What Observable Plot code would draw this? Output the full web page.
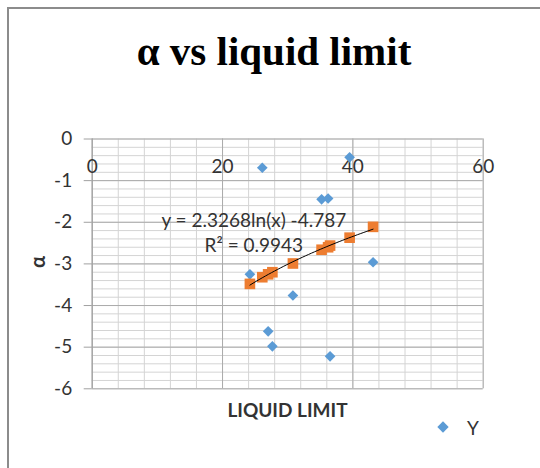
<!DOCTYPE html>
<html><head><meta charset="utf-8">
<script src="https://cdn.jsdelivr.net/npm/d3@7"></script>
<script src="https://cdn.jsdelivr.net/npm/@observablehq/plot@0.6"></script>
<style>
body{margin:0;background:#fff;}
#wrap{position:relative;width:540px;height:468px;overflow:hidden;font-family:Lato,"Open Sans",sans-serif;color:#333;}
#frame{position:absolute;left:7px;top:7px;width:700px;height:700px;border-left:2px solid #8c8c8c;border-top:2px solid #8c8c8c;}
#title{position:absolute;left:0;width:548px;top:30px;text-align:center;font-family:"Liberation Serif","DejaVu Serif",serif;font-weight:bold;font-size:41px;line-height:42px;color:#000;}
#chart{position:absolute;left:0;top:100px;}
#ytitle{position:absolute;left:27px;top:252px;width:20px;height:20px;line-height:20px;text-align:center;font-weight:bold;font-size:20px;transform:rotate(-90deg);color:#333;}
#xtitle{position:absolute;left:92px;width:391px;top:400px;line-height:20px;text-align:center;font-weight:bold;font-size:19px;color:#333;}
#legend{position:absolute;left:439px;top:416px;height:22px;display:flex;align-items:center;font-size:19px;color:#333;}
#legend .sw{width:8px;height:8px;background:#5b9bd5;transform:rotate(45deg);margin-right:20px;}
</style>
</head><body>
<div id="wrap">
  <div id="frame"></div>
  <div id="title">α vs liquid limit</div>
  <div id="chart"></div>
  <div id="ytitle">α</div>
  <div id="xtitle">LIQUID LIMIT</div>
  <div id="legend"><div class="sw"></div><span>Y</span></div>
</div>
<script>
// Liquid limit (x) values
const liquidLimit = [24.2, 26.1, 27.0, 27.65, 30.8, 35.2, 36.2, 36.5, 39.5, 43.1];
// Series "Y" (blue diamonds)
const alphaY = [-3.25, -0.69, -4.62, -4.98, -3.76, -1.45, -1.43, -5.22, -0.44, -2.96];
// Fitted series (orange squares)
const alphaFit = [-3.48, -3.32, -3.25, -3.20, -2.99, -2.66, -2.60, -2.56, -2.37, -2.11];
// Axis ticks
const xMajor = [0, 20, 40, 60];
const xMinor = d3.range(0, 61, 4);
const yMajor = [0, -1, -2, -3, -4, -5, -6];
const yMinor = d3.range(0, 31).map(i => -i * 0.2);
// Trendline labels
const equationLabels = [
  {x: 24.8, y: -1.96, text: "y = 2.3268ln(x) -4.787"},
  {x: 24.8, y: -2.56, text: "R² = 0.9943"}
];

const blue = liquidLimit.map((x, i) => ({x, y: alphaY[i]}));
const orange = liquidLimit.map((x, i) => ({x, y: alphaFit[i]}));

// logarithmic least-squares fit of the orange series
const lx = orange.map(d => Math.log(d.x));
const mx = d3.mean(lx), my = d3.mean(orange, d => d.y);
const a = d3.sum(lx, (v, i) => (v - mx) * (orange[i].y - my)) / d3.sum(lx, v => (v - mx) ** 2);
const b = my - a * mx;
const [x0, x1] = d3.extent(liquidLimit);
const trend = d3.range(0, 41).map(i => { const x = x0 + (x1 - x0) * i / 40; return {x, y: a * Math.log(x) + b}; });

const chart = Plot.plot({
  width: 540,
  height: 340,
  marginLeft: 91.7,
  marginRight: 57.3,
  marginTop: 38.5,
  marginBottom: 51.7,
  style: {fontFamily: "Lato, 'Open Sans', sans-serif", background: "transparent"},
  x: {domain: [0, 60], axis: null},
  y: {domain: [-6, 0], axis: null},
  marks: [
    Plot.ruleX(xMinor, {stroke: "#d4d4d4", strokeWidth: 1}),
    Plot.ruleY(yMinor, {stroke: "#d4d4d4", strokeWidth: 1}),
    Plot.ruleX(xMajor, {stroke: "#ababab", strokeWidth: 1}),
    Plot.ruleY(yMajor, {stroke: "#ababab", strokeWidth: 1}),
    Plot.ruleX([0], {stroke: "#a0a0a0", strokeWidth: 1}),
    Plot.axisY({ticks: yMajor, tickSize: 8, tickPadding: 12, stroke: "#a0a0a0", fill: "#333", fontSize: 19, label: null, tickFormat: d => d === 0 ? "0" : "-" + Math.abs(d)}),
    Plot.text(xMajor, {x: d => d, y: 0, dy: 28, text: d => String(d), fontSize: 19, fill: "#333"}),
    Plot.dot(blue, {x: "x", y: "y", symbol: "diamond2", r: 4.8, fill: "#5b9bd5", stroke: "none"}),
    Plot.dot(orange, {x: "x", y: "y", symbol: "square", r: 6, fill: "#ed7d31", stroke: "none"}),
    Plot.line(trend, {x: "x", y: "y", stroke: "#000", strokeWidth: 1}),
    Plot.text(equationLabels, {x: "x", y: "y", text: "text", fontSize: 19, fill: "#333"})
  ]
});
document.getElementById("chart").appendChild(chart);
</script>
</body></html>
